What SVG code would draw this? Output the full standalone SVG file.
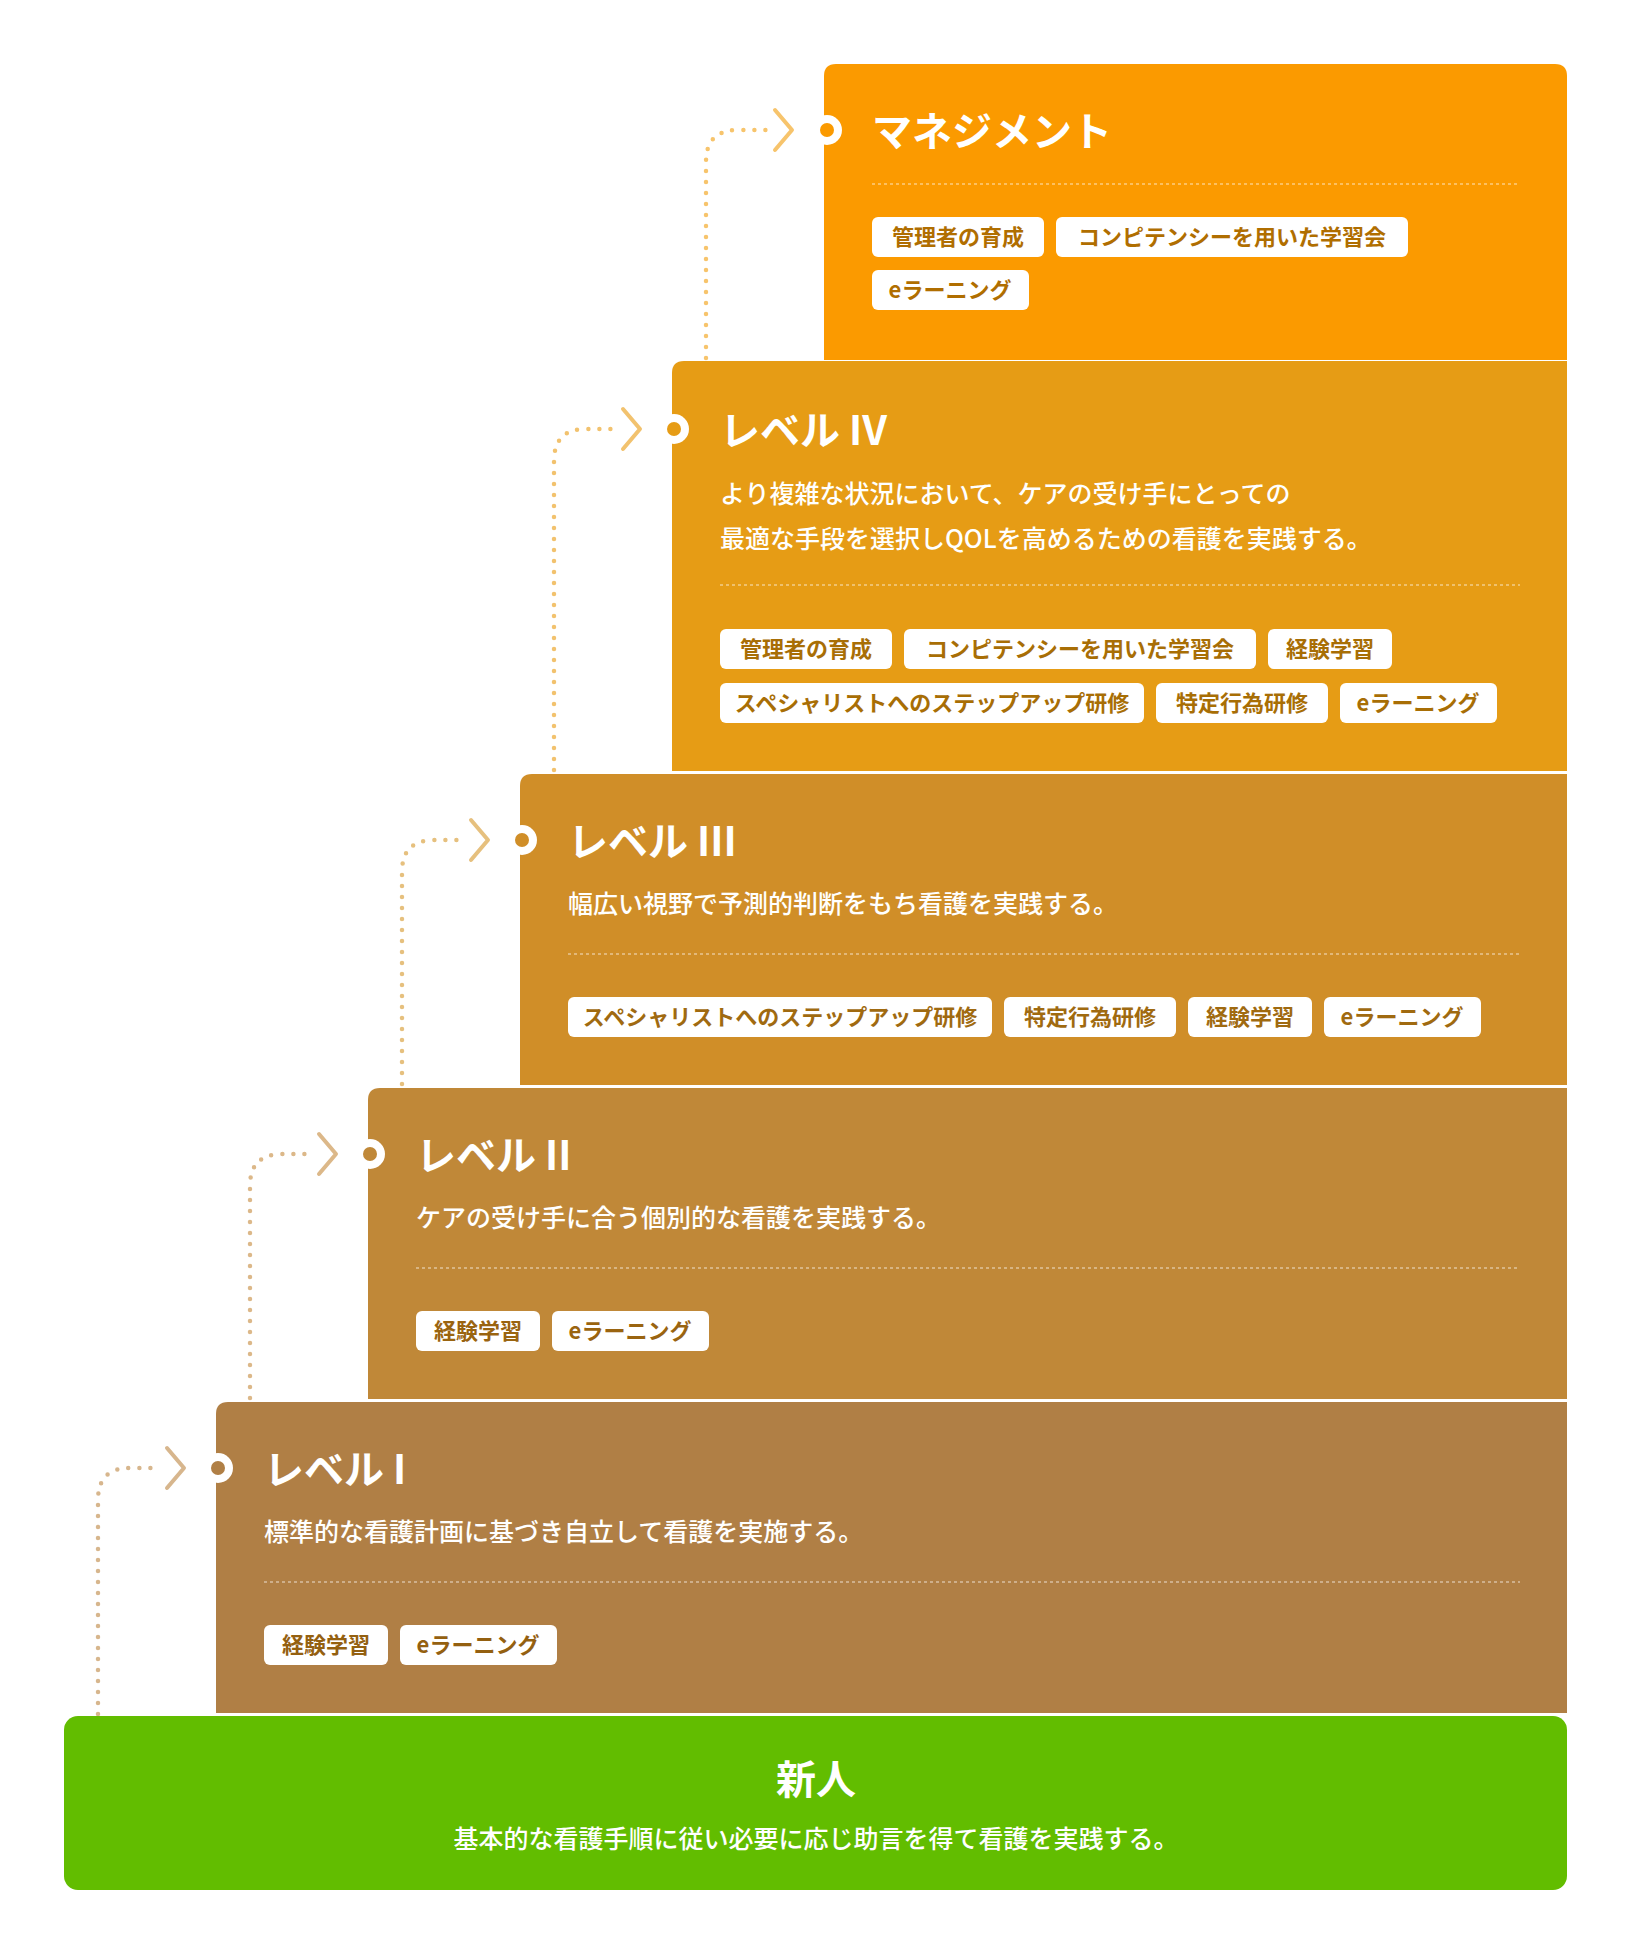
<svg xmlns="http://www.w3.org/2000/svg" width="1632" height="1954" viewBox="0 0 1632 1954">
<style>
text{font-family:"Noto Sans CJK JP","Noto Sans",sans-serif;}
.t{fill:#fff;font-size:40px;font-weight:700;}
.d{fill:#fff;font-size:25px;font-weight:500;}
.g{font-size:22px;font-weight:700;}
.tag{fill:#fff;}
.sep{stroke:#fff;stroke-opacity:.5;stroke-width:1.5;stroke-dasharray:3 3;}
.con{fill:none;stroke-width:4.5;stroke-linecap:round;stroke-dasharray:0 11;}
.chev{fill:none;stroke-width:4;stroke-linecap:round;stroke-linejoin:round;}
</style>
<rect width="1632" height="1954" fill="#fff"/>
<g id="connectors">
<path class="con" stroke="#f7c46c" d="M706 358 V162 Q706 130 738 130 H766"/>
<polyline class="chev" stroke="#f7c46c" points="775,110 792,130 775,150"/>
<path class="con" stroke="#f2c26e" d="M554 770 V461 Q554 429 586 429 H614"/>
<polyline class="chev" stroke="#f2c26e" points="623,409 640,429 623,449"/>
<path class="con" stroke="#e6c07e" d="M402 1084 V872 Q402 840 434 840 H462"/>
<polyline class="chev" stroke="#e6c07e" points="471,820 488,840 471,860"/>
<path class="con" stroke="#dcb889" d="M250 1398 V1186 Q250 1154 282 1154 H310"/>
<polyline class="chev" stroke="#dcb889" points="319,1134 336,1154 319,1174"/>
<path class="con" stroke="#d7b68d" d="M98 1714 V1500 Q98 1468 130 1468 H158"/>
<polyline class="chev" stroke="#d7b68d" points="167,1448 184,1468 167,1488"/>
</g>
<g id="management">
<path d="M824 360 V76 Q824 64 836 64 H1555 Q1567 64 1567 76 V360 Z" fill="#fb9a00"/>
<circle cx="827" cy="130" r="15" fill="#fff"/><circle cx="827" cy="130" r="7" fill="#fb9a00"/>
<text class="t" x="872" y="146">マネジメント</text>
<line class="sep" x1="872" y1="184" x2="1520" y2="184"/>
<g class="g" fill="#b06e00">
<rect class="tag" x="872" y="217" width="172" height="40" rx="6"/><text x="958" y="245" text-anchor="middle">管理者の育成</text>
<rect class="tag" x="1056" y="217" width="352" height="40" rx="6"/><text x="1232" y="245" text-anchor="middle">コンピテンシーを用いた学習会</text>
<rect class="tag" x="872" y="270" width="157" height="40" rx="6"/><text x="950" y="298" text-anchor="middle">eラーニング</text>
</g>
</g>
<g id="level4">
<path d="M672 771 V373 Q672 361 684 361 H1567 V771 Z" fill="#e69c15"/>
<circle cx="674" cy="429" r="15" fill="#fff"/><circle cx="674" cy="429" r="7" fill="#e69c15"/>
<text class="t" x="720" y="445">レベル IV</text>
<text class="d" x="720" y="503">より複雑な状況において、ケアの受け手にとっての</text>
<text class="d" x="720" y="548">最適な手段を選択しQOLを高めるための看護を実践する。</text>
<line class="sep" x1="720" y1="585" x2="1520" y2="585"/>
<g class="g" fill="#a86e05">
<rect class="tag" x="720" y="629" width="172" height="40" rx="6"/><text x="806" y="657" text-anchor="middle">管理者の育成</text>
<rect class="tag" x="904" y="629" width="352" height="40" rx="6"/><text x="1080" y="657" text-anchor="middle">コンピテンシーを用いた学習会</text>
<rect class="tag" x="1268" y="629" width="124" height="40" rx="6"/><text x="1330" y="657" text-anchor="middle">経験学習</text>
<rect class="tag" x="720" y="683" width="424" height="40" rx="6"/><text x="932" y="711" text-anchor="middle">スペシャリストへのステップアップ研修</text>
<rect class="tag" x="1156" y="683" width="172" height="40" rx="6"/><text x="1242" y="711" text-anchor="middle">特定行為研修</text>
<rect class="tag" x="1340" y="683" width="157" height="40" rx="6"/><text x="1418" y="711" text-anchor="middle">eラーニング</text>
</g>
</g>
<g id="level3">
<path d="M520 1085 V786 Q520 774 532 774 H1567 V1085 Z" fill="#d08e28"/>
<circle cx="522" cy="840" r="15" fill="#fff"/><circle cx="522" cy="840" r="7" fill="#d08e28"/>
<text class="t" x="568" y="856">レベル III</text>
<text class="d" x="568" y="913">幅広い視野で予測的判断をもち看護を実践する。</text>
<line class="sep" x1="568" y1="954" x2="1520" y2="954"/>
<g class="g" fill="#a06a10">
<rect class="tag" x="568" y="997" width="424" height="40" rx="6"/><text x="780" y="1025" text-anchor="middle">スペシャリストへのステップアップ研修</text>
<rect class="tag" x="1004" y="997" width="172" height="40" rx="6"/><text x="1090" y="1025" text-anchor="middle">特定行為研修</text>
<rect class="tag" x="1188" y="997" width="124" height="40" rx="6"/><text x="1250" y="1025" text-anchor="middle">経験学習</text>
<rect class="tag" x="1324" y="997" width="157" height="40" rx="6"/><text x="1402" y="1025" text-anchor="middle">eラーニング</text>
</g>
</g>
<g id="level2">
<path d="M368 1399 V1100 Q368 1088 380 1088 H1567 V1399 Z" fill="#c08838"/>
<circle cx="370" cy="1154" r="15" fill="#fff"/><circle cx="370" cy="1154" r="7" fill="#c08838"/>
<text class="t" x="416" y="1170">レベル II</text>
<text class="d" x="416" y="1227">ケアの受け手に合う個別的な看護を実践する。</text>
<line class="sep" x1="416" y1="1268" x2="1520" y2="1268"/>
<g class="g" fill="#9a6410">
<rect class="tag" x="416" y="1311" width="124" height="40" rx="6"/><text x="478" y="1339" text-anchor="middle">経験学習</text>
<rect class="tag" x="552" y="1311" width="157" height="40" rx="6"/><text x="630" y="1339" text-anchor="middle">eラーニング</text>
</g>
</g>
<g id="level1">
<path d="M216 1713 V1414 Q216 1402 228 1402 H1567 V1713 Z" fill="#b07f45"/>
<circle cx="218" cy="1468" r="15" fill="#fff"/><circle cx="218" cy="1468" r="7" fill="#b07f45"/>
<text class="t" x="264" y="1484">レベル I</text>
<text class="d" x="264" y="1541">標準的な看護計画に基づき自立して看護を実施する。</text>
<line class="sep" x1="264" y1="1582" x2="1520" y2="1582"/>
<g class="g" fill="#946010">
<rect class="tag" x="264" y="1625" width="124" height="40" rx="6"/><text x="326" y="1653" text-anchor="middle">経験学習</text>
<rect class="tag" x="400" y="1625" width="157" height="40" rx="6"/><text x="478" y="1653" text-anchor="middle">eラーニング</text>
</g>
</g>
<g id="newcomer">
<rect x="64" y="1716" width="1503" height="174" rx="14" fill="#62bd00"/>
<text class="t" x="816" y="1794" text-anchor="middle">新人</text>
<text class="d" x="816" y="1848" text-anchor="middle">基本的な看護手順に従い必要に応じ助言を得て看護を実践する。</text>
</g>
</svg>
